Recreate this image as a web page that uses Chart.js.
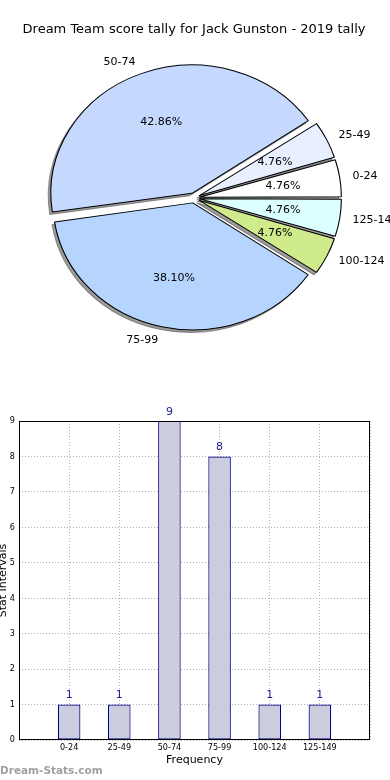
<!DOCTYPE html>
<html>
<head>
<meta charset="utf-8">
<script src="https://cdn.jsdelivr.net/npm/chart.js@4.4.1/dist/chart.umd.min.js"></script>
<style>
  html, body { margin: 0; padding: 0; background: #fff; width: 390px; height: 780px; overflow: hidden; }
  #pie { position: absolute; left: 0; top: 0; }
  #bar { position: absolute; left: 0; top: 400px; }
</style>
</head>
<body>
<canvas id="pie" width="390" height="380"></canvas>
<canvas id="bar" width="390" height="380"></canvas>
<script>
// ---- data ----
const chartTitle = "Dream Team score tally for Jack Gunston - 2019 tally";
const categories = ["0-24", "25-49", "50-74", "75-99", "100-124", "125-149"];
const counts = [1, 1, 9, 8, 1, 1];
const sliceColors = ["#ffffff", "#e8f0ff", "#c5d9ff", "#b5d5ff", "#d0eb8c", "#dcffff"];
const yTicks = [0, 1, 2, 3, 4, 5, 6, 7, 8, 9];
const xAxisTitle = "Frequency";
const yAxisTitle = "Stat Intervals";
const watermark = "Dream-Stats.com";

const FONT = "'DejaVu Sans', 'Liberation Sans', sans-serif";
const COND = "'DejaVu Sans Condensed', 'DejaVu Sans', sans-serif";
const total = counts.reduce((a, b) => a + b, 0);

// pie drawn counter-clockwise from 3 o'clock -> reverse for Chart.js clockwise order
const pieCats = categories.slice().reverse();
const pieVals = counts.slice().reverse();
const pieCols = sliceColors.slice().reverse();
const STRETCH = 1.1;   // horizontal stretch of the pie (ellipse)
const OFFSET = 20;     // Chart.js offset (translation = offset / 4)

const ellipsePlugin = {
  id: 'ellipse',
  beforeDatasetsDraw(chart) {
    const els = chart.getDatasetMeta(0).data;
    const el = els[0];
    const ctx = chart.ctx;
    // shadow pass (drawn beneath all wedges)
    ctx.save();
    ctx.translate(-2.5, 2.5);
    ctx.translate(el.x, el.y);
    ctx.scale(STRETCH, 1);
    ctx.translate(-el.x, -el.y);
    els.forEach(e => {
      const orig = e.options;
      e.options = Object.assign({}, orig, {
        backgroundColor: 'rgba(60,60,60,0.5)',
        borderColor: 'rgba(60,60,60,0.5)'
      });
      e.draw(ctx);
      e.options = orig;
    });
    ctx.restore();
    // stretched transform for the real wedges
    ctx.save();
    ctx.translate(el.x, el.y);
    ctx.scale(STRETCH, 1);
    ctx.translate(-el.x, -el.y);
  },
  afterDatasetsDraw(chart) {
    chart.ctx.restore();
  },
  afterDraw(chart) {
    const ctx = chart.ctx;
    const meta = chart.getDatasetMeta(0);
    ctx.save();
    ctx.fillStyle = '#000';
    ctx.font = '11px ' + FONT;
    ctx.textBaseline = 'middle';
    meta.data.forEach((el, i) => {
      const mid = (el.startAngle + el.endAngle) / 2;
      const off = OFFSET / 4;
      const r = el.outerRadius + 2.5;
      const c = Math.cos(mid), s = Math.sin(mid);
      const lx = el.x + (off + 1.1 * r) * c * STRETCH;
      const ly = el.y + (off + 1.1 * r) * s;
      ctx.textAlign = lx > el.x ? 'left' : 'right';
      ctx.fillText(pieCats[i], lx, ly);
      const px = el.x + (off + 0.6 * r) * c * STRETCH;
      const py = el.y + (off + 0.6 * r) * s;
      ctx.textAlign = 'center';
      ctx.fillText((pieVals[i] / total * 100).toFixed(2) + '%', px, py);
    });
    ctx.restore();
  }
};

new Chart(document.getElementById('pie'), {
  type: 'pie',
  data: {
    labels: pieCats,
    datasets: [{
      data: pieVals,
      backgroundColor: pieCols,
      borderColor: '#000',
      borderWidth: 1,
      offset: OFFSET
    }]
  },
  options: {
    responsive: false,
    devicePixelRatio: 1,
    animation: false,
    rotation: 90,
    radius: 125.5,
    layout: { padding: { left: 0, right: 2, top: 0, bottom: 44 } },
    plugins: {
      legend: { display: false },
      tooltip: { enabled: false },
      title: {
        display: true,
        text: chartTitle,
        color: '#000',
        font: { family: FONT, size: 13, weight: 'normal', lineHeight: 1.2 },
        padding: { top: 22, bottom: 22.4 }
      }
    }
  },
  plugins: [ellipsePlugin]
});

// ---- bar chart ----
const barPlugin = {
  id: 'barExtras',
  afterDraw(chart) {
    const ctx = chart.ctx;
    const a = chart.chartArea;
    ctx.save();
    ctx.strokeStyle = '#000';
    ctx.lineWidth = 1;
    ctx.strokeRect(Math.round(a.left) + 0.5, Math.round(a.top) + 0.5,
                   Math.round(a.right - a.left) - 1, Math.round(a.bottom - a.top) - 1);
    ctx.fillStyle = '#1a1a90';
    ctx.font = '11px ' + FONT;
    ctx.textAlign = 'center';
    ctx.textBaseline = 'middle';
    chart.getDatasetMeta(0).data.forEach((el, i) => {
      ctx.fillText(String(counts[i]), el.x, el.y - 9);
    });
    ctx.fillStyle = '#a0a0a0';
    ctx.font = 'bold 10.5px ' + FONT;
    ctx.textAlign = 'left';
    ctx.fillText(watermark, 0, 371);
    ctx.restore();
  }
};

new Chart(document.getElementById('bar'), {
  type: 'bar',
  data: {
    datasets: [{
      data: counts.map((v, i) => ({ x: i, y: v })),
      backgroundColor: '#ccccdf',
      borderColor: '#00008b',
      borderWidth: 1.2,
      borderSkipped: false,
      barPercentage: 0.45,
      categoryPercentage: 1
    }]
  },
  options: {
    responsive: false,
    devicePixelRatio: 1,
    animation: false,
    layout: { padding: { left: 0, right: 20, top: 21, bottom: 0 } },
    plugins: { legend: { display: false }, tooltip: { enabled: false }, title: { display: false } },
    scales: {
      x: {
        type: 'linear',
        min: -1,
        max: categories.length,
        offset: false,
        z: 1,
        afterFit: s => { s.height = 40; },
        afterBuildTicks: s => { s.ticks = []; for (let v = -1; v <= categories.length; v++) s.ticks.push({ value: v }); },
        ticks: {
          autoSkip: false,
          maxRotation: 0,
          padding: 2,
          color: '#000',
          font: { family: COND, size: 9 },
          callback: v => (categories[v] !== undefined ? categories[v] : '')
        },
        grid: { offset: false, drawTicks: false, color: '#b0b0b0', lineWidth: 1 },
        border: { display: false, dash: [1, 2] },
        title: {
          display: true,
          text: xAxisTitle,
          color: '#000',
          font: { family: FONT, size: 11, lineHeight: 1.2 },
          padding: { top: 0, bottom: 13.4 }
        }
      },
      y: {
        type: 'linear',
        min: yTicks[0],
        max: yTicks[yTicks.length - 1],
        z: 1,
        afterFit: s => { s.width = 19; },
        afterBuildTicks: s => { s.ticks = yTicks.map(v => ({ value: v })); },
        ticks: {
          padding: 4,
          color: '#000',
          font: { family: COND, size: 9 }
        },
        grid: { drawTicks: false, color: '#b0b0b0', lineWidth: 1 },
        border: { display: false, dash: [1, 2] },
        title: {
          display: true,
          text: yAxisTitle,
          color: '#000',
          font: { family: FONT, size: 11, lineHeight: 1.2 },
          padding: { top: -3.6, bottom: 0 }
        }
      }
    }
  },
  plugins: [barPlugin]
});
</script>
</body>
</html>
